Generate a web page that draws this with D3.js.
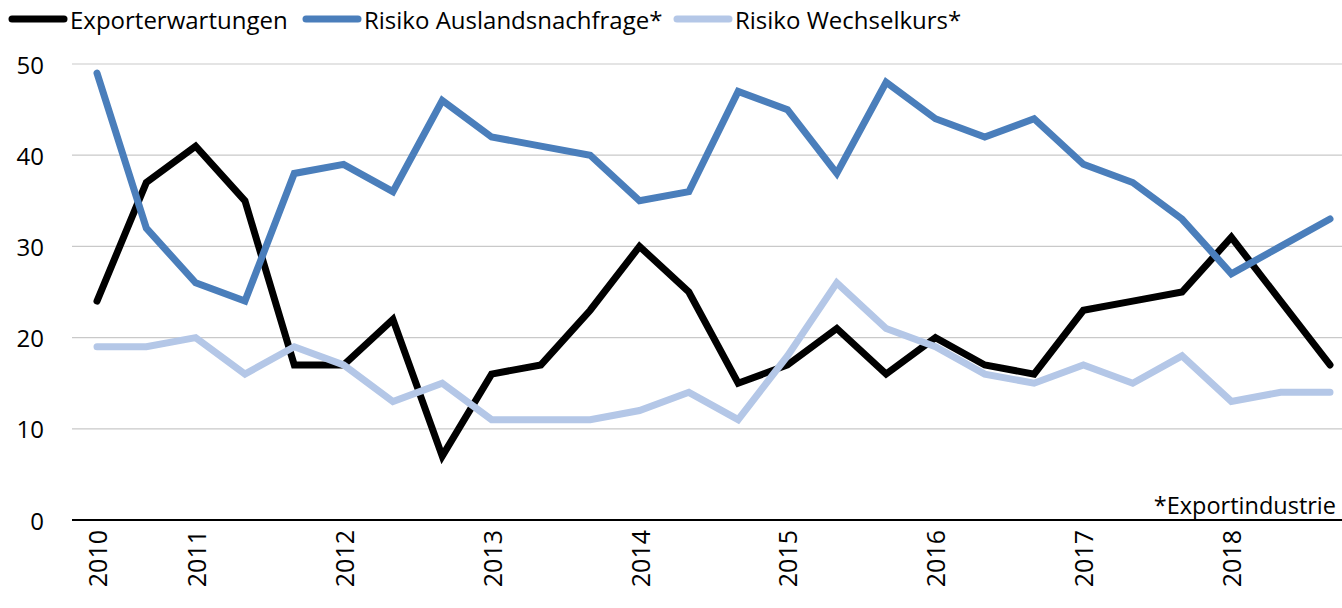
<!DOCTYPE html>
<html>
<head>
<meta charset="utf-8">
<script src="https://cdn.jsdelivr.net/npm/d3@7"></script>
<style>
  body { margin: 0; background: #fff; }
  text { font-family: "Open Sans", "Noto Sans", sans-serif; fill: #000; }
</style>
</head>
<body>
<div id="container"><svg></svg></div>
<script>
const W = 1342;
const H = 608;

// survey waves: two in 2010, then three per year
const periods = ['2010', '', '2011', '', '', '2012', '', '', '2013', '', '', '2014', '', '',
    '2015', '', '', '2016', '', '', '2017', '', '', '2018', '', ''];

const exporterwartungen = [24, 37, 41, 35, 17, 17, 22, 7, 16, 17, 23, 30, 25, 15, 17, 21, 16, 20, 17, 16, 23, 24, 25, 31, 24, 17];
const risikoNachfrage = [49, 32, 26, 24, 38, 39, 36, 46, 42, 41, 40, 35, 36, 47, 45, 38, 48, 44, 42, 44, 39, 37, 33, 27, 30, 33];
const risikoWechselkurs = [19, 19, 20, 16, 19, 17, 13, 15, 11, 11, 11, 12, 14, 11, 18, 26, 21, 19, 16, 15, 17, 15, 18, 13, 14, 14];

const yTicks = [0, 10, 20, 30, 40, 50];

const series = [
    {name: 'Exporterwartungen', values: exporterwartungen, color: '#000000'},
    {name: 'Risiko Auslandsnachfrage*', values: risikoNachfrage, color: '#4a7ebb'},
    {name: 'Risiko Wechselkurs*', values: risikoWechselkurs, color: '#b4c7e7'}
];

const svg = d3.select('svg').attr('width', W).attr('height', H);

const x = d3.scaleLinear().domain([0, periods.length - 1]).range([97, 1330]);
const y = d3.scaleLinear().domain([0, 50]).range([520, 64]);

// grid lines
svg.append('g')
    .selectAll('line')
    .data(yTicks.filter(d => d > 0))
    .enter().append('line')
    .attr('x1', 72).attr('x2', W)
    .attr('y1', d => y(d)).attr('y2', d => y(d))
    .attr('stroke', '#c9c9c9')
    .attr('stroke-width', 1.2);

// y labels
svg.append('g')
    .selectAll('text')
    .data(yTicks)
    .enter().append('text')
    .attr('x', 44)
    .attr('y', d => y(d))
    .attr('text-anchor', 'end')
    .attr('dominant-baseline', 'central')
    .style('font-size', '24px')
    .text(d => d);

// baseline
svg.append('line')
    .attr('x1', 72).attr('x2', W)
    .attr('y1', y(0)).attr('y2', y(0))
    .attr('stroke', '#000')
    .attr('stroke-width', 2.2);

// x labels, rotated
svg.append('g')
    .selectAll('text')
    .data(periods.map((p, i) => [p, i]).filter(d => d[0] !== ''))
    .enter().append('text')
    .attr('transform', d => `translate(${x(d[1])}, 530) rotate(-90)`)
    .attr('text-anchor', 'end')
    .attr('dominant-baseline', 'central')
    .style('font-size', '25px')
    .text(d => d[0]);

// lines
const line = d3.line()
    .x((d, i) => x(i))
    .y(d => y(d));

svg.append('g')
    .selectAll('path')
    .data(series)
    .enter().append('path')
    .attr('d', d => line(d.values))
    .attr('fill', 'none')
    .attr('stroke', d => d.color)
    .attr('stroke-width', 7)
    .attr('stroke-linejoin', 'miter')
    .attr('stroke-linecap', 'round');

// footnote
svg.append('text')
    .attr('x', 1336)
    .attr('y', 505)
    .attr('text-anchor', 'end')
    .attr('dominant-baseline', 'central')
    .style('font-size', '23.5px')
    .text('*Exportindustrie');

// legend
const legendX = [12, 306, 677];
const legend = svg.append('g')
    .selectAll('g')
    .data(series)
    .enter().append('g')
    .attr('transform', (d, i) => `translate(${legendX[i]}, 19)`);

legend.append('line')
    .attr('x1', 0).attr('x2', 52)
    .attr('y1', 0).attr('y2', 0)
    .attr('stroke', d => d.color)
    .attr('stroke-width', 7)
    .attr('stroke-linecap', 'round');

legend.append('text')
    .attr('x', 58)
    .attr('y', 0)
    .attr('dominant-baseline', 'central')
    .style('font-size', '24px')
    .text(d => d.name);
</script>
</body>
</html>
